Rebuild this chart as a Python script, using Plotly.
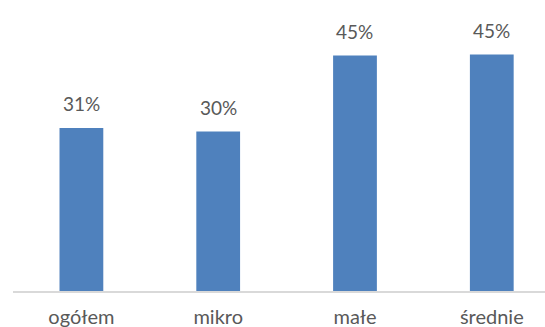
import plotly.graph_objects as go

categories = ["ogółem", "mikro", "małe", "średnie"]
values = [31.1, 30.4, 44.9, 45.1]
labels = ["31%", "30%", "45%", "45%"]

fig = go.Figure(go.Bar(
    x=categories, y=values,
    marker=dict(color="#4F81BD", line=dict(width=0)),
    width=0.32,
))

for c, v, t in zip(categories, values, labels):
    fig.add_annotation(x=c, y=v, text=t, showarrow=False, yanchor="middle",
                       yshift=24, font=dict(family="Lato", size=19, color="#595959"))

fig.update_layout(
    width=545, height=327,
    margin=dict(l=13, r=0, t=0, b=36),
    plot_bgcolor="white", paper_bgcolor="white",
    showlegend=False,
    xaxis=dict(
        range=[-0.5, 3.389], showgrid=False, zeroline=False,
        showline=True, linecolor="#D9D9D9", linewidth=1.5,
        ticks="", tickfont=dict(family="Lato", size=20, color="#595959"),
        ticklabelstandoff=7, automargin=False,
    ),
    yaxis=dict(range=[0, 55.5], visible=False, showgrid=False, zeroline=False,
               automargin=False),
)

fig.write_html("out.html")
